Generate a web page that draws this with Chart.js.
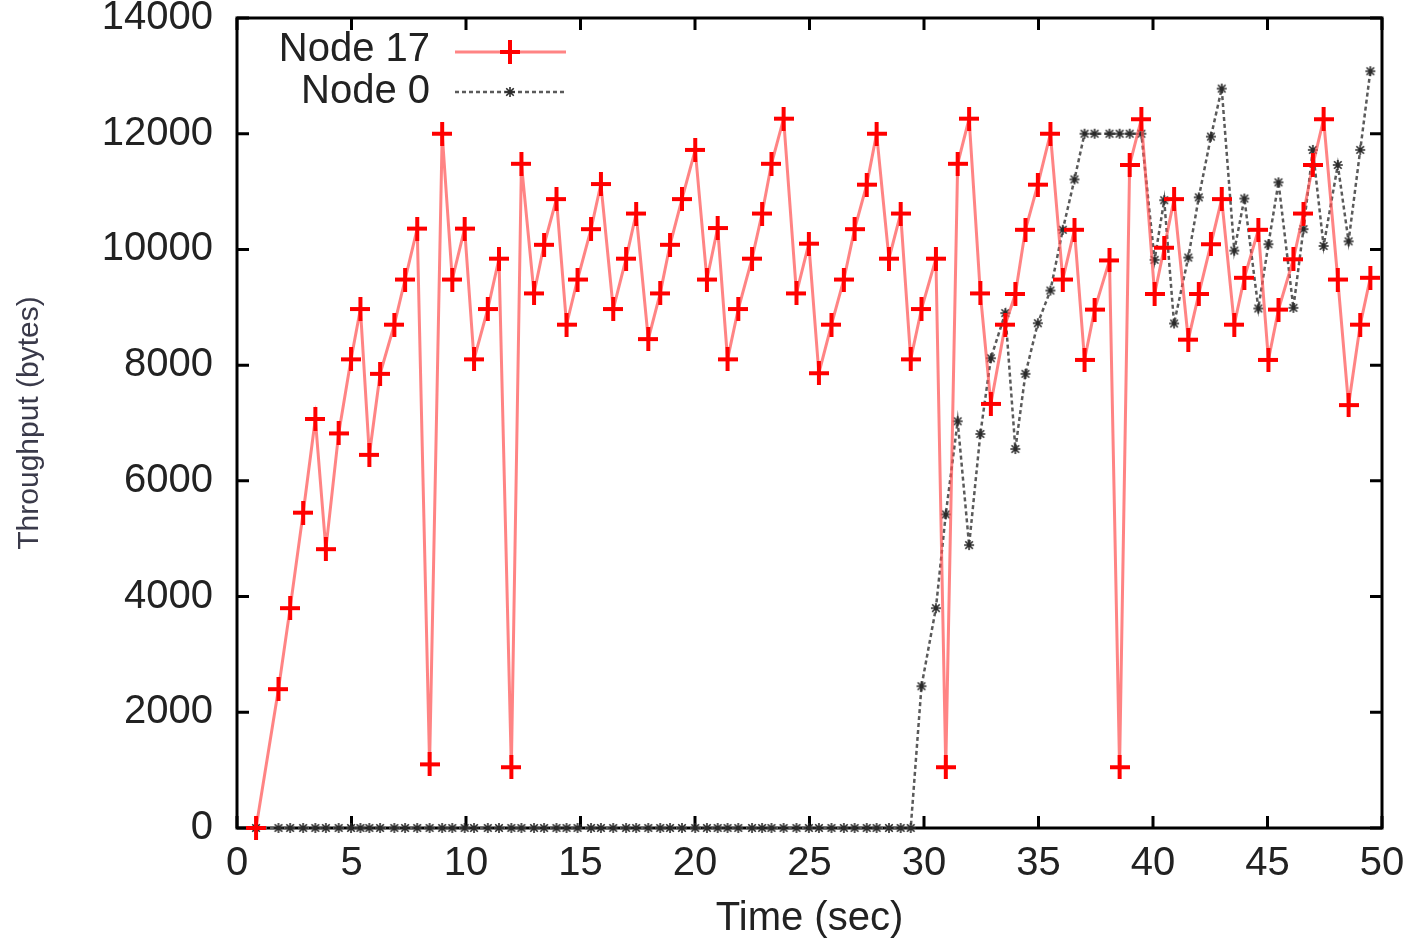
<!DOCTYPE html>
<html><head><meta charset="utf-8">
<script src="https://cdn.jsdelivr.net/npm/chart.js@4.4.1/dist/chart.umd.min.js"></script>
<style>html,body{margin:0;padding:0;background:#fff;}#wrap{width:1416px;height:943px;}</style>
</head><body><div id="wrap"><canvas id="c" width="1416" height="943"></canvas></div>
<script>
// ---- data ----
const timeSec = [0.83,1.81,2.32,2.89,3.42,3.88,4.44,4.98,5.39,5.78,6.25,6.87,7.34,7.87,8.41,8.96,9.40,9.94,10.35,10.95,
 11.44,11.98,12.42,12.97,13.41,13.95,14.39,14.87,15.46,15.89,16.43,16.99,17.43,17.96,18.48,18.91,19.43,20.01,20.52,20.99,
 21.42,21.89,22.49,22.93,23.34,23.87,24.43,24.97,25.41,25.96,26.50,26.97,27.50,27.93,28.47,28.98,29.42,29.89,30.52,30.95,
 31.47,31.97,32.46,32.92,33.55,33.99,34.43,34.97,35.52,36.06,36.57,37.01,37.45,38.10,38.54,38.98,39.49,40.07,40.49,40.92,
 41.54,42.00,42.53,43.00,43.55,43.99,44.60,45.04,45.48,46.13,46.57,46.98,47.45,48.07,48.54,49.05,49.49];
const node17 = [0,2400,3800,5450,7070,4820,6820,8100,8970,6450,7850,8700,9480,10360,1100,12000,9480,10360,8100,8970,
 9840,1050,11480,9240,10080,10870,8700,9480,10350,11130,8970,9840,10620,8450,9240,10080,10870,11720,9480,10370,
 8100,8970,9840,10620,11480,12260,9240,10100,7860,8700,9480,10350,11120,12000,9840,10620,8100,8970,9840,1050,
 11480,12260,9240,7330,8700,9230,10340,11120,12000,9480,10340,8090,8960,9810,1050,11460,12250,9230,10030,10870,
 8440,9230,10090,10870,8700,9510,10340,8090,8960,9830,10620,11460,12250,9480,7310,8700,9510];
const node0 = [0,0,0,0,0,0,0,0,0,0,0,0,0,0,0,0,0,0,0,0,
 0,0,0,0,0,0,0,0,0,0,0,0,0,0,0,0,0,0,0,0,
 0,0,0,0,0,0,0,0,0,0,0,0,0,0,0,0,0,2450,3800,5420,
 7030,4890,6810,8120,8900,6550,7850,8725,9290,10340,11210,12000,12000,12000,12000,12000,12000,9820,10850,8720,
 9860,10900,11950,12780,9980,10880,8980,10090,11160,8990,10350,11720,10060,11460,10140,11720,13080];
const xTicks = [0,5,10,15,20,25,30,35,40,45,50];
const yTicks = [0,2000,4000,6000,8000,10000,12000,14000];
const seriesNames = ['Node 17','Node 0'];
const xTitle = 'Time (sec)';
const yTitle = 'Throughput (bytes)';

// ---- styles ----
const FONT = '"Liberation Sans", Arial, sans-serif';
const TXT = '#222';
function plusImg(w,h,t,color){const c=document.createElement('canvas');c.width=w;c.height=h;const g=c.getContext('2d');g.fillStyle=color;g.fillRect(0,(h-t)/2,w,t);g.fillRect((w-t)/2,0,t,h);return c;}
function starImg(r,color){const s=2*r+2;const c=document.createElement('canvas');c.width=s;c.height=s;const g=c.getContext('2d');g.strokeStyle=color;g.lineWidth=1.6;const m=s/2;g.beginPath();
  g.moveTo(m-r,m);g.lineTo(m+r,m);g.moveTo(m,m-r);g.lineTo(m,m+r);const d=r*0.75;g.moveTo(m-d,m-d);g.lineTo(m+d,m+d);g.moveTo(m-d,m+d);g.lineTo(m+d,m-d);g.stroke();return c;}
const plus = plusImg(20,24,4,'#ff0000');
const star = starImg(5,'#2a2a2a');
const redLine = 'rgba(255,80,80,0.7)';
const blackLine = '#5a5a5a';
const pts = (ys)=>ys.map((y,i)=>({x:timeSec[i],y}));

const framePlugin = {
  id:'frame',
  beforeDatasetsDraw(chart){
    const {ctx, chartArea:a, scales:{x,y}} = chart;
    ctx.save();
    ctx.strokeStyle='#000'; ctx.lineWidth=3;
    ctx.strokeRect(a.left, a.top, a.right-a.left, a.bottom-a.top);
    const L=12;
    ctx.beginPath();
    xTicks.forEach(v=>{const px=x.getPixelForValue(v);ctx.moveTo(px,a.bottom);ctx.lineTo(px,a.bottom-L);ctx.moveTo(px,a.top);ctx.lineTo(px,a.top+L);});
    yTicks.forEach(v=>{const py=y.getPixelForValue(v);ctx.moveTo(a.left,py);ctx.lineTo(a.left+L,py);ctx.moveTo(a.right,py);ctx.lineTo(a.right-L,py);});
    ctx.stroke();
    ctx.restore();
  },
  afterDraw(chart){
    const ctx=chart.ctx;
    ctx.save();
    ctx.fillStyle='#3a3a4a';
    ctx.font='30px '+FONT;
    ctx.translate(38,423);
    ctx.rotate(-Math.PI/2);
    ctx.textAlign='center'; ctx.textBaseline='alphabetic';
    ctx.fillText(yTitle,0,0);
    ctx.restore();
    // legend
    ctx.save();
    ctx.font='40px '+FONT; ctx.fillStyle=TXT; ctx.textAlign='right'; ctx.textBaseline='middle';
    ctx.fillText(seriesNames[0],430,50);
    ctx.fillText(seriesNames[1],430,92);
    ctx.strokeStyle=redLine; ctx.lineWidth=3;
    ctx.beginPath(); ctx.moveTo(455,52); ctx.lineTo(566,52); ctx.stroke();
    ctx.drawImage(plus,510-10,52-12);
    ctx.strokeStyle=blackLine; ctx.lineWidth=2.5; ctx.setLineDash([4,3]);
    ctx.beginPath(); ctx.moveTo(455,92); ctx.lineTo(566,92); ctx.stroke();
    ctx.setLineDash([]);
    ctx.drawImage(star,510-star.width/2,92-star.height/2);
    ctx.restore();
  }
};

new Chart(document.getElementById('c'),{
  type:'line',
  data:{datasets:[
    {label:seriesNames[0],data:pts(node17),borderColor:redLine,borderWidth:3,tension:0,
     pointStyle:plus,pointRadius:10,pointHoverRadius:10,clip:false},
    {label:seriesNames[1],data:pts(node0),borderColor:blackLine,borderWidth:2.5,borderDash:[4,3],tension:0,
     pointStyle:star,pointRadius:6,pointHoverRadius:6,clip:false}
  ]},
  options:{
    responsive:false, animation:false, devicePixelRatio:1,
    layout:{padding:{left:0,right:34,top:18,bottom:0}},
    plugins:{legend:{display:false},tooltip:{enabled:false}},
    scales:{
      x:{type:'linear',min:0,max:50,
        afterBuildTicks:s=>{s.ticks=xTicks.map(v=>({value:v}));},
        afterFit:s=>{s.height=115;s.paddingLeft=0;s.paddingRight=0;},
        grid:{display:false,drawTicks:false},border:{display:false},
        ticks:{font:{size:40,family:FONT},color:TXT,padding:12,maxRotation:0,autoSkip:false},
        title:{display:true,text:xTitle,font:{size:40,family:FONT},color:TXT,padding:{top:10,bottom:0}}},
      y:{type:'linear',min:0,max:14000,
        afterBuildTicks:s=>{s.ticks=yTicks.map(v=>({value:v}));},
        afterFit:s=>{s.width=237;s.paddingTop=0;s.paddingBottom=0;},
        grid:{display:false,drawTicks:false},border:{display:false},
        ticks:{font:{size:40,family:FONT},color:TXT,padding:24,autoSkip:false,callback:v=>String(v)}}
    }
  },
  plugins:[framePlugin]
});
</script></body></html>
